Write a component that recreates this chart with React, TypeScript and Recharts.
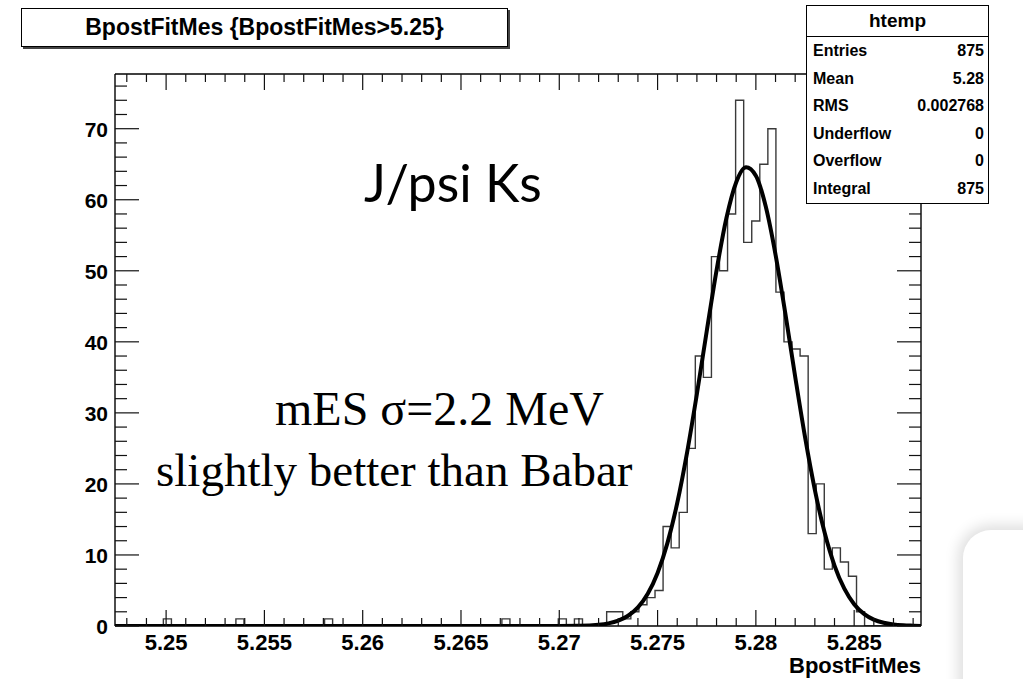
import React from "react";
import { ComposedChart, Line, XAxis, YAxis } from "recharts";

// histogram htemp: 100 bins of BpostFitMes
const X_MIN = 5.2474;
const X_MAX = 5.2884;
const binCounts = [
  0, 0, 0, 0, 0, 0, 1, 0, 0, 0,
  0, 0, 0, 0, 0, 1, 0, 0, 0, 0,
  0, 0, 0, 0, 0, 0, 1, 0, 0, 0,
  0, 0, 0, 0, 0, 0, 0, 0, 0, 0,
  0, 0, 0, 0, 0, 0, 0, 0, 1, 0,
  0, 0, 0, 0, 0, 1, 0, 1, 0, 0,
  0, 2, 2, 1, 2, 3, 4, 5, 14, 11,
  16, 25, 38, 35, 52, 50, 58, 74, 54, 57,
  65, 70, 47, 40, 39, 38, 13, 20, 8, 11,
  9, 7, 2, 0, 0, 0, 0, 0, 0, 0,
];

// gaussian fit curve
const fitX = [
  5.2474, 5.26, 5.268, 5.27, 5.271, 5.272, 5.2725, 5.273, 5.2735, 5.274,
  5.2745, 5.275, 5.2755, 5.276, 5.2765, 5.277, 5.2775, 5.278, 5.2785, 5.279,
  5.2795, 5.28, 5.2805, 5.281, 5.2815, 5.282, 5.2825, 5.283, 5.2835, 5.284,
  5.2845, 5.285, 5.2855, 5.286, 5.2865, 5.287, 5.2875, 5.288, 5.2884,
];
const fitY = [
  0, 0, 0, 0.01, 0.03, 0.17, 0.37, 0.75, 1.44, 2.62,
  4.54, 7.47, 11.67, 17.31, 24.41, 32.66, 41.49, 50.07, 57.39, 62.47,
  64.57, 63.38, 59.08, 52.29, 43.97, 35.09, 26.61, 19.17, 13.11, 8.51,
  5.25, 3.07, 1.71, 0.9, 0.45, 0.22, 0.1, 0.04, 0,
];

const xMajorTicks = [5.25, 5.255, 5.26, 5.265, 5.27, 5.275, 5.28, 5.285];
const xTickLabels = ["5.25", "5.255", "5.26", "5.265", "5.27", "5.275", "5.28", "5.285"];
const yMajorTicks = [0, 10, 20, 30, 40, 50, 60, 70];
const yTickLabels = ["0", "10", "20", "30", "40", "50", "60", "70"];
const Y_MAX = 77.7;

const statNames = ["Entries", "Mean", "RMS", "Underflow", "Overflow", "Integral"];
const statValues = ["875", "5.28", "0.002768", "0", "0", "875"];

const binW = (X_MAX - X_MIN) / binCounts.length;
const histData = binCounts
  .map((c, i) => ({ x: X_MIN + i * binW, y: c }))
  .concat([{ x: X_MAX, y: binCounts[binCounts.length - 1] }]);
const fitData = fitX.map((x, i) => ({ x, y: fitY[i] }));

// minor ticks every 0.001 on x, every 2 on y
const xTicks: number[] = [];
for (let k = 5248; k <= 5288; k++) xTicks.push(k / 1000);
const yTicks: number[] = [];
for (let k = 0; k <= 76; k += 2) yTicks.push(k);

const SANS = "'Liberation Sans', Arial, Helvetica, sans-serif";
const SERIF = "'Liberation Serif', 'Times New Roman', serif";

const isXMajor = (v: number) => xMajorTicks.some((t) => Math.abs(t - v) < 1e-7);
const isYMajor = (v: number) => v % 10 === 0;

const BottomTick = (p: any) => {
  const v = p.payload.value;
  const idx = xMajorTicks.findIndex((t) => Math.abs(t - v) < 1e-7);
  const major = idx >= 0;
  return (
    <g>
      <line x1={p.x} x2={p.x} y1={p.y} y2={p.y - (major ? 16 : 8)} stroke="#111" strokeWidth={1.2} />
      {major && (
        <text x={p.x} y={p.y + 24} textAnchor="middle" fontFamily={SANS} fontWeight="bold" fontSize={22} fill="#000">
          {xTickLabels[idx]}
        </text>
      )}
    </g>
  );
};

const TopTick = (p: any) => {
  const major = isXMajor(p.payload.value);
  return <line x1={p.x} x2={p.x} y1={p.y} y2={p.y + (major ? 16 : 8)} stroke="#111" strokeWidth={1.2} />;
};

const LeftTick = (p: any) => {
  const v = p.payload.value;
  const major = isYMajor(v);
  return (
    <g>
      <line x1={p.x} x2={p.x + (major ? 24 : 12)} y1={p.y} y2={p.y} stroke="#111" strokeWidth={1.2} />
      {major && (
        <text x={p.x - 7} y={p.y + 8} textAnchor="end" fontFamily={SANS} fontWeight="bold" fontSize={21} fill="#000">
          {yTickLabels[yMajorTicks.indexOf(v)]}
        </text>
      )}
    </g>
  );
};

const RightTick = (p: any) => {
  const major = isYMajor(p.payload.value);
  return <line x1={p.x} x2={p.x - (major ? 24 : 12)} y1={p.y} y2={p.y} stroke="#111" strokeWidth={1.2} />;
};

const axisLine = { stroke: "#000", strokeWidth: 1.4 };

export default function App() {
  return (
    <div style={{ position: "absolute", left: 0, top: 0, width: 1023, height: 679, overflow: "hidden", background: "#fff" }}>
      <ComposedChart width={1023} height={679} margin={{ top: 73, right: 101, bottom: 52, left: 114 }}>
        <XAxis xAxisId="b" type="number" dataKey="x" domain={[X_MIN, X_MAX]} allowDataOverflow ticks={xTicks}
          interval={0} height={1} tickSize={0} tickMargin={0} tickLine={false} axisLine={axisLine} tick={BottomTick} />
        <XAxis xAxisId="t" orientation="top" type="number" dataKey="x" domain={[X_MIN, X_MAX]} allowDataOverflow ticks={xTicks}
          interval={0} height={1} tickSize={0} tickMargin={0} tickLine={false} axisLine={axisLine} tick={TopTick} />
        <YAxis yAxisId="l" type="number" domain={[0, Y_MAX]} allowDataOverflow ticks={yTicks}
          interval={0} width={1} tickSize={0} tickMargin={0} tickLine={false} axisLine={axisLine} tick={LeftTick} />
        <YAxis yAxisId="r" orientation="right" type="number" domain={[0, Y_MAX]} allowDataOverflow ticks={yTicks}
          interval={0} width={1} tickSize={0} tickMargin={0} tickLine={false} axisLine={axisLine} tick={RightTick} />
        <Line xAxisId="b" yAxisId="l" data={histData} dataKey="y" type="stepAfter" stroke="#3a3a3a"
          strokeWidth={1.4} dot={false} activeDot={false} isAnimationActive={false} />
        <Line xAxisId="b" yAxisId="l" data={fitData} dataKey="y" type="monotone" stroke="#000"
          strokeWidth={4} dot={false} activeDot={false} isAnimationActive={false} />
      </ComposedChart>

      <svg width={1023} height={679} style={{ position: "absolute", left: 0, top: 0, pointerEvents: "none" }}>
        <text x={921} y={673} textAnchor="end" fontFamily={SANS} fontWeight="bold" fontSize={22}>BpostFitMes</text>
        <text x={364} y={202} fontFamily="Lato, 'Open Sans', sans-serif" fontSize={52}>J/psi Ks</text>
        <text x={275} y={425} fontFamily={SERIF} fontSize={48}>mES σ=2.2 MeV</text>
        <text x={156} y={486} fontFamily={SERIF} fontSize={47}>slightly better than Babar</text>
      </svg>

      <div style={{ position: "absolute", left: 21, top: 8, width: 485, height: 37, border: "1px solid #000",
        boxShadow: "2px 2px 0 #444", background: "#fff", fontFamily: SANS, fontWeight: "bold", fontSize: 23,
        lineHeight: "37px", textAlign: "center" }}>
        BpostFitMes {"{BpostFitMes>5.25}"}
      </div>

      <div style={{ position: "absolute", left: 806, top: 5, width: 181, height: 197, border: "1px solid #000",
        background: "#fff", fontFamily: SANS, fontWeight: "bold" }}>
        <div style={{ height: 30, lineHeight: "30px", textAlign: "center", fontSize: 19, borderBottom: "1px solid #000" }}>htemp</div>
        {statNames.map((n, i) => (
          <div key={n} style={{ display: "flex", justifyContent: "space-between", height: 27.6, lineHeight: "27.6px",
            fontSize: 16, padding: "0 4px 0 6px" }}>
            <span>{n}</span>
            <span>{statValues[i]}</span>
          </div>
        ))}
      </div>

      <div style={{ position: "absolute", left: 963, top: 530, width: 90, height: 180, borderRadius: 28, background: "#fff",
        boxShadow: "0 0 14px 5px rgba(0,0,0,0.13)" }} />
    </div>
  );
}
